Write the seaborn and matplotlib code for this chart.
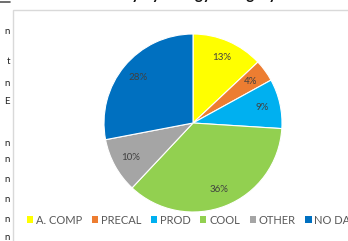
import matplotlib
matplotlib.use("Agg")
import matplotlib.pyplot as plt
import matplotlib.patches as mpatches
import seaborn as sns

sns.set_theme(style="white")
plt.rcParams['font.family'] = ['Lato', 'DejaVu Sans']

categories = ["A. COMP", "PRECAL", "PROD", "COOL", "OTHER", "NO DATA"]
values = [13, 4, 9, 36, 10, 28]
colors = ["#FFFF00", "#ED7D31", "#00B0F0", "#92D050", "#A5A5A5", "#0070C0"]
side_fragments = ["n", "t", "n", "E", "n", "n", "n", "n", "n", "n"]
side_y = [32, 62, 84, 102, 143, 159, 179, 199, 219, 237]

W, H = 348, 241
fig = plt.figure(figsize=(W / 100, H / 100), dpi=100)
fig.patch.set_facecolor("white")

def fx(px):
    return px / W

def fy(py):
    return 1 - py / H

# chart area border
fig.add_artist(mpatches.Rectangle((fx(13), fy(260)), fx(360), 250 / H,
                                  transform=fig.transFigure, fill=False,
                                  edgecolor="#D9D9D9", linewidth=1.0))
# partial title, cut off at top
fig.text(fx(185), fy(-1), "Survey by Energy Category", ha="center",
         va="baseline", fontsize=11, fontweight="bold", color="#111111")
# left fragments of neighbouring text
fig.add_artist(plt.Line2D([0, fx(10)], [fy(2), fy(2)], transform=fig.transFigure,
                          color="#555555", linewidth=1.2))
for s, y in zip(side_fragments, side_y):
    fig.text(fx(10), fy(y), s, ha="right", va="center", fontsize=7,
             color="#222222")

cx, cy, r = 193, 123, 89
ax = fig.add_axes([fx(cx - r), fy(cy + r), 2 * r / W, 2 * r / H])
wedges, texts, autotexts = ax.pie(
    values, colors=colors, startangle=90, counterclock=False,
    autopct="%d%%", pctdistance=0.8, radius=1,
    wedgeprops=dict(edgecolor="white", linewidth=0.8),
    textprops=dict(fontsize=7, color="#404040"))
ax.set_xlim(-1, 1)
ax.set_ylim(-1, 1)
ax.set_aspect("equal")
ax.axis("off")

handles = [mpatches.Patch(facecolor=c, edgecolor="none") for c in colors]
fig.legend(handles, categories, loc="center left",
           bbox_to_anchor=(fx(27), fy(220)), ncol=6, frameon=False,
           fontsize=8, handlelength=0.55, handleheight=0.55,
           handletextpad=0.25, columnspacing=0.88, labelcolor="#595959",
           borderpad=0, borderaxespad=0)

fig.savefig("out.png", dpi=100)
